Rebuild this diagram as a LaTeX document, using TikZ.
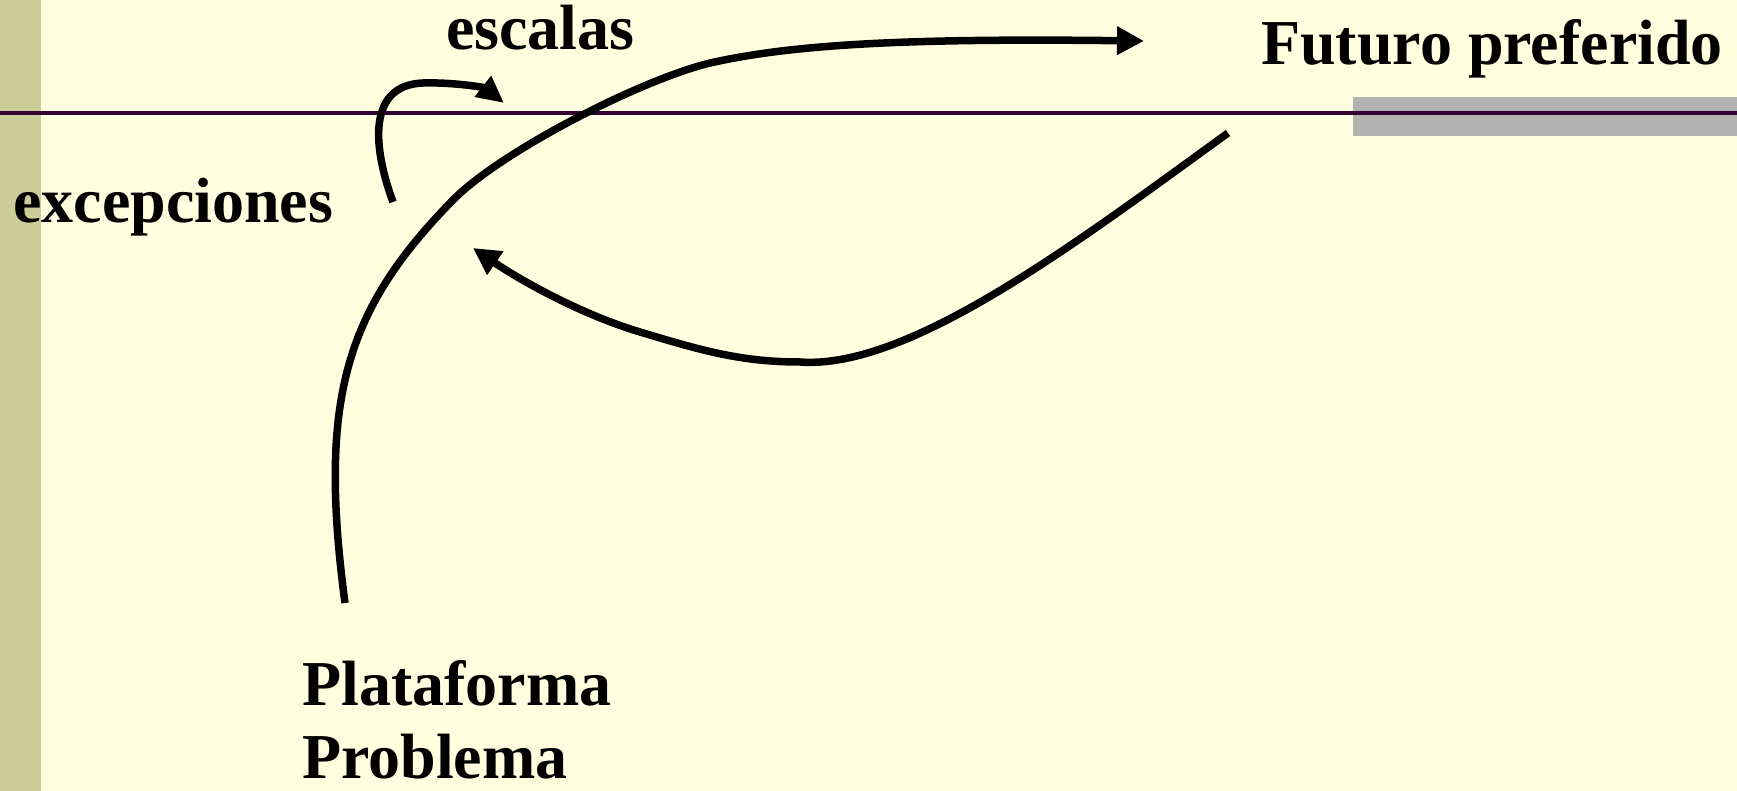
\documentclass[tikz,border=0pt]{standalone}
\usepackage{fontspec}
\setmainfont{Liberation Serif}
\usepackage{tikz}
\usetikzlibrary{arrows.meta, positioning}
\definecolor{slideYellow}{RGB}{255, 255, 224}
\definecolor{barKhaki}{RGB}{204, 204, 153}
\definecolor{barGrey}{RGB}{178, 178, 178}
\definecolor{rulePurple}{RGB}{51, 0, 51}

\begin{document}
\begin{tikzpicture}[x=1pt, y=-1pt,
  lbl/.style={anchor=base west, inner sep=0pt, font=\fontsize{64}{73}\selectfont\bfseries},
  flow/.style={line width=7.5pt, -{Triangle[length=27pt, width=27pt]}}]

  % slide background
  \fill[slideYellow] (0,0) rectangle (1737,791);
  \useasboundingbox (0,0) rectangle (1737,791);
  \fill[barKhaki] (0,0) rectangle (41,791);
  \fill[barGrey] (1353,97) rectangle (1737,136);
  \draw[rulePurple, line width=4pt] (0,113) -- (1737,113);

  % labels
  \node[lbl] (escalas) at (446,50)  {escalas};
  \node[lbl] (futuro)  at (1261,65) {Futuro preferido};
  \node[lbl] (excep)   at (13,223)  {excepciones};
  \node[lbl] (plat)    at (302,705) {Plataforma};
  \node[lbl] (probl)   at (302,778) {Problema};

  % curve ends
  \coordinate (platTop) at (345,603);
  \coordinate (futIn)   at (1144,41);
  \coordinate (excTop)  at (393,202);
  \coordinate (escIn)   at (504,103);
  \coordinate (futOut)  at (1228,133);
  \coordinate (backIn)  at (473,248);

  \draw[flow] (platTop) .. controls (318,400) and (345,310) .. (453,200)
    .. controls (500,152) and (640,80) .. (710,63)
    .. controls (790,45) and (900,38) .. (futIn);
  \draw[flow, -{Triangle[length=27pt, width=25pt]}] (excTop)
    .. controls (372,145) and (368,85) .. (423,83)
    .. controls (455,82) and (485,88) .. (escIn);
  \draw[flow] (futOut) .. controls (1080,240) and (910,370) .. (800,362)
    .. controls (740,362) and (700,350) .. (640,332)
    .. controls (580,314) and (520,280) .. (backIn);

\end{tikzpicture}
\end{document}
